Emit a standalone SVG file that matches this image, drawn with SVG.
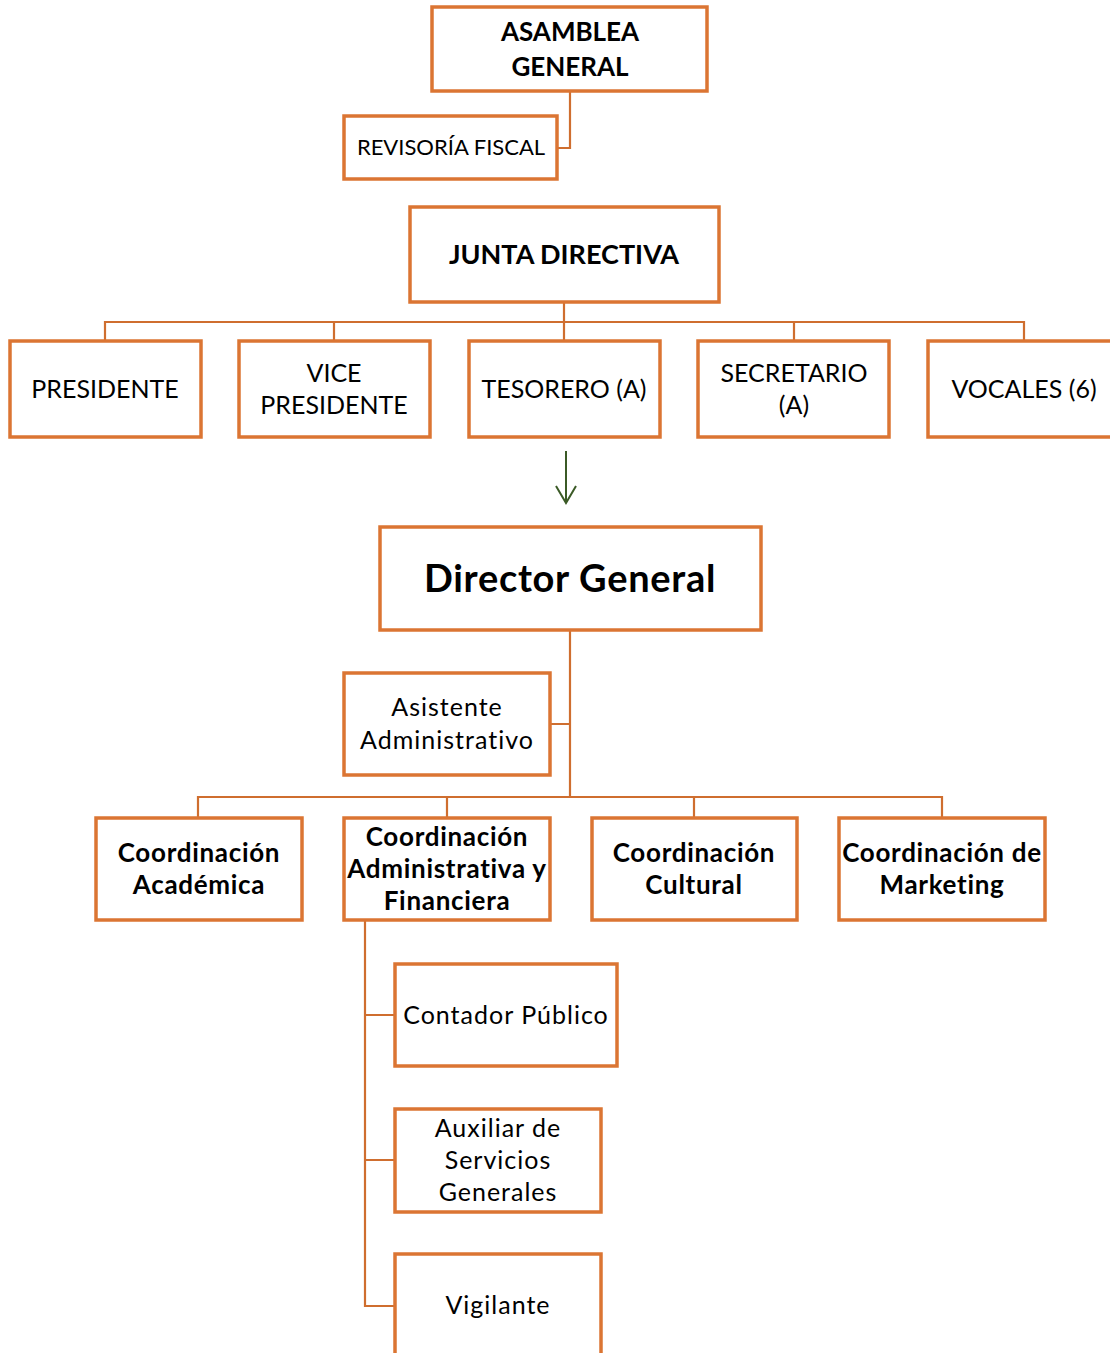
<svg xmlns="http://www.w3.org/2000/svg" width="1110" height="1353" viewBox="0 0 1110 1353">
<style>
.box{fill:#ffffff;stroke:#DB7533;stroke-width:3.5}
.con{fill:none;stroke:#CF6E2F;stroke-width:2.2}
text{font-family:Lato,"Open Sans","Liberation Sans",sans-serif;fill:#000;text-anchor:middle}
.r{font-size:25px}
.b{font-size:26px;font-weight:bold}
.m{letter-spacing:1px}
.mb{letter-spacing:0.7px}
</style>
<defs>
<marker id="ah" viewBox="0 0 20 22" refX="18" refY="11" markerWidth="20" markerHeight="22" markerUnits="userSpaceOnUse" orient="auto">
<path d="M1,1 L18,11 L1,21" fill="none" stroke="#3B5A26" stroke-width="2"/>
</marker>
</defs>
<rect width="1110" height="1353" fill="#ffffff"/>
<g id="connectors">
<path class="con" d="M570,91 V148 H557"/>
<path class="con" d="M564,302 V322 M105,341 V322 H1024 V341 M334,322 V341 M564,322 V341 M794,322 V341"/>
<path class="con" d="M570,630 V797 M570,724 H550 M198,818 V797 H942 V818 M447,797 V818 M694,797 V818"/>
<path class="con" d="M365,920 V1306 H395 M365,1015 H395 M365,1160 H395"/>
<line x1="566" y1="451" x2="566" y2="503" stroke="#3B5A26" stroke-width="2" marker-end="url(#ah)"/>
</g>
<g id="asamblea"><rect class="box" x="432" y="7" width="275" height="84"/><text class="b" x="570" y="41">ASAMBLEA</text><text class="b" x="570" y="76">GENERAL</text></g>
<g id="revisoria"><rect class="box" x="344" y="116" width="213" height="63"/><text class="r" x="451" y="155" style="font-size:22px">REVISORÍA FISCAL</text></g>
<g id="junta"><rect class="box" x="410" y="207" width="309" height="95"/><text class="b" x="564" y="264" style="font-size:27px">JUNTA DIRECTIVA</text></g>
<g id="presidente"><rect class="box" x="10" y="341" width="191" height="96"/><text class="r" x="105" y="398">PRESIDENTE</text></g>
<g id="vicepresidente"><rect class="box" x="239" y="341" width="191" height="96"/><text class="r" x="334" y="382">VICE</text><text class="r" x="334" y="414">PRESIDENTE</text></g>
<g id="tesorero"><rect class="box" x="469" y="341" width="191" height="96"/><text class="r" x="564" y="398">TESORERO (A)</text></g>
<g id="secretario"><rect class="box" x="698" y="341" width="191" height="96"/><text class="r" x="794" y="382">SECRETARIO</text><text class="r" x="794" y="414">(A)</text></g>
<g id="vocales"><rect class="box" x="928" y="341" width="191" height="96"/><text class="r" x="1024" y="398">VOCALES (6)</text></g>
<g id="director"><rect class="box" x="380" y="527" width="381" height="103"/><text class="b mb" x="570" y="592" style="font-size:38px">Director General</text></g>
<g id="asistente"><rect class="box" x="344" y="673" width="206" height="102"/><text class="r m" x="447" y="716">Asistente</text><text class="r m" x="447" y="749">Administrativo</text></g>
<g id="academica"><rect class="box" x="96" y="818" width="206" height="102"/><text class="b mb" x="199" y="862">Coordinación</text><text class="b mb" x="199" y="894">Académica</text></g>
<g id="administrativa"><rect class="box" x="344" y="818" width="206" height="102"/><text class="b mb" x="447" y="846">Coordinación</text><text class="b mb" x="447" y="878">Administrativa y</text><text class="b mb" x="447" y="910">Financiera</text></g>
<g id="cultural"><rect class="box" x="592" y="818" width="205" height="102"/><text class="b mb" x="694" y="862">Coordinación</text><text class="b mb" x="694" y="894">Cultural</text></g>
<g id="marketing"><rect class="box" x="839" y="818" width="206" height="102"/><text class="b mb" x="942" y="862">Coordinación de</text><text class="b mb" x="942" y="894">Marketing</text></g>
<g id="contador"><rect class="box" x="395" y="964" width="222" height="102"/><text class="r m" x="506" y="1024">Contador Público</text></g>
<g id="auxiliar"><rect class="box" x="395" y="1109" width="206" height="103"/><text class="r m" x="498" y="1137">Auxiliar de</text><text class="r m" x="498" y="1169">Servicios</text><text class="r m" x="498" y="1201">Generales</text></g>
<g id="vigilante"><rect class="box" x="395" y="1254" width="206" height="110"/><text class="r m" x="498" y="1314">Vigilante</text></g>
</svg>
